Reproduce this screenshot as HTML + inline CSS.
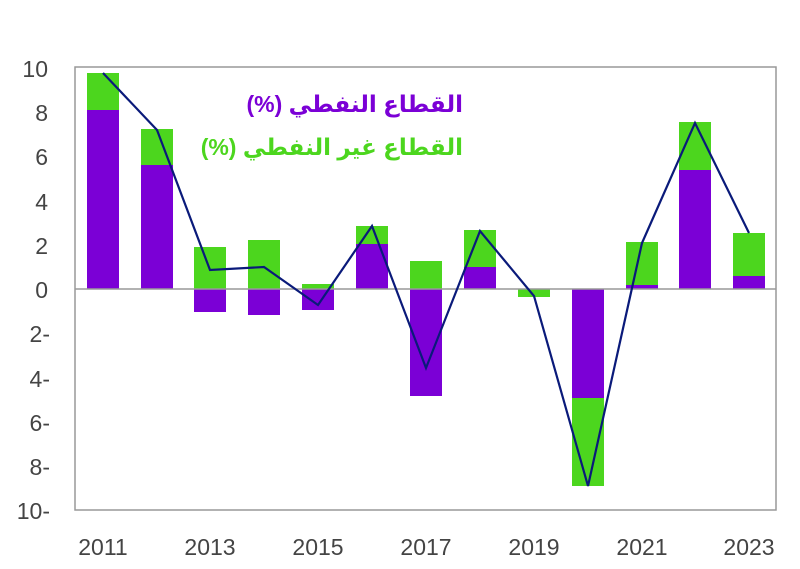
<!DOCTYPE html>
<html><head><meta charset="utf-8"><style>
body{margin:0;background:#fff;}
svg text{font-family:"Liberation Sans","DejaVu Sans",sans-serif;}
</style></head><body>
<svg width="800" height="564" viewBox="0 0 800 564" xmlns="http://www.w3.org/2000/svg">
<rect x="75" y="67" width="701" height="443" fill="#fff" stroke="#999" stroke-width="1.5"/>
<g fill="#444" font-size="23" text-anchor="end">
<text x="48" y="77">10</text>
<text x="48" y="121">8</text>
<text x="48" y="165">6</text>
<text x="48" y="210">4</text>
<text x="48" y="254">2</text>
<text x="48" y="298">0</text>
<text x="50" y="342">2-</text>
<text x="50" y="387">4-</text>
<text x="50" y="431">6-</text>
<text x="50" y="475">8-</text>
<text x="50" y="519">10-</text>
</g>
<g fill="#444" font-size="23" text-anchor="middle">
<text x="103" y="555">2011</text>
<text x="210" y="555">2013</text>
<text x="318" y="555">2015</text>
<text x="426" y="555">2017</text>
<text x="534" y="555">2019</text>
<text x="642" y="555">2021</text>
<text x="749" y="555">2023</text>
</g>
<g fill="#4cd61e">
<rect x="87" y="73" width="32" height="37"/>
<rect x="141" y="129" width="32" height="36"/>
<rect x="194" y="247" width="32" height="42"/>
<rect x="248" y="240" width="32" height="49"/>
<rect x="302" y="284" width="32" height="5"/>
<rect x="356" y="226" width="32" height="18"/>
<rect x="410" y="261" width="32" height="28"/>
<rect x="464" y="230" width="32" height="37"/>
<rect x="518" y="289" width="32" height="8"/>
<rect x="572" y="398" width="32" height="88"/>
<rect x="626" y="242" width="32" height="43"/>
<rect x="679" y="122" width="32" height="48"/>
<rect x="733" y="233" width="32" height="43"/>
</g>
<g fill="#7b00d6">
<rect x="87" y="110" width="32" height="179"/>
<rect x="141" y="165" width="32" height="124"/>
<rect x="194" y="289" width="32" height="23"/>
<rect x="248" y="289" width="32" height="26"/>
<rect x="302" y="289" width="32" height="21"/>
<rect x="356" y="244" width="32" height="45"/>
<rect x="410" y="289" width="32" height="107"/>
<rect x="464" y="267" width="32" height="22"/>
<rect x="572" y="289" width="32" height="109"/>
<rect x="626" y="285" width="32" height="4"/>
<rect x="679" y="170" width="32" height="119"/>
<rect x="733" y="276" width="32" height="13"/>
</g>
<line x1="75" y1="289" x2="776" y2="289" stroke="#999" stroke-width="1.5"/>
<polyline fill="none" stroke="#0a1a7a" stroke-width="2.2" points="103,73 157,130 210,270 264,267 318,305 372,226 426,368 480,231 534,296 588,486 642,243 695,123 749,233"/>
<g font-size="23" font-weight="bold" text-anchor="start" style="font-family:'DejaVu Sans','Noto Sans CJK SC',sans-serif">
<text x="463" y="112" fill="#7b00d6" direction="rtl" unicode-bidi="plaintext">القطاع النفطي (%)</text>
<text x="463" y="155" fill="#4cd61e" direction="rtl" unicode-bidi="plaintext">القطاع غير النفطي (%)</text>
</g>
</svg>
</body></html>
